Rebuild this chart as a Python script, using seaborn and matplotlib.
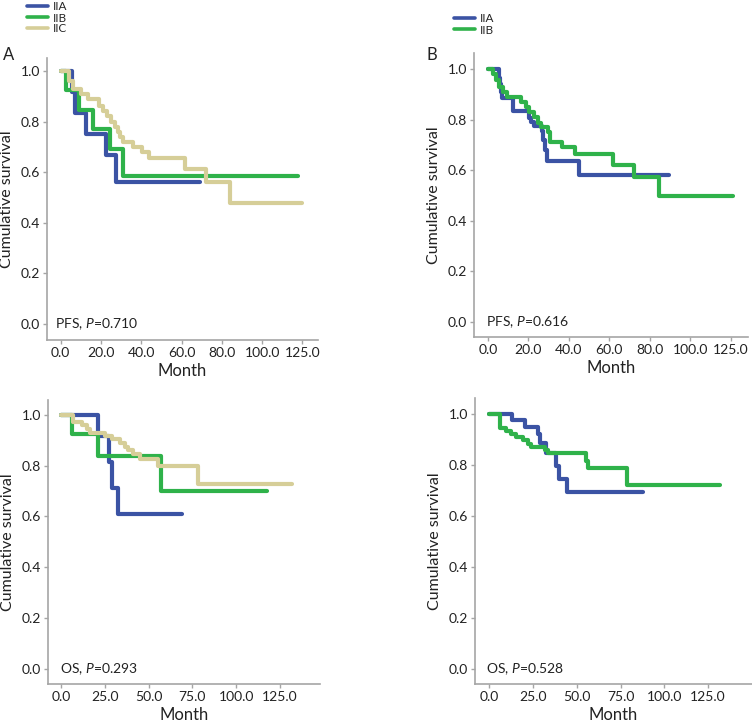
import numpy as np
import pandas as pd
import matplotlib
matplotlib.use('Agg')
import matplotlib.pyplot as plt
import seaborn as sns

# Stage groups and colours
STAGES = ['IIA', 'IIB', 'IIC']
COLORS = {'IIA': '#3b53a4', 'IIB': '#2fb24a', 'IIC': '#d6ce98'}

# Panel A: PFS by stage (month of step, survival after step)
pfs3_iia_t = [0, 5.5, 7, 12.5, 22.5, 27.5, 69]
pfs3_iia_s = [1.0, 0.917, 0.833, 0.75, 0.667, 0.5625, 0.5625]
pfs3_iib_t = [0, 2.5, 9.1, 16.2, 24.5, 31, 118]
pfs3_iib_s = [1.0, 0.923, 0.846, 0.769, 0.692, 0.586, 0.586]
pfs3_iic_t = [0, 4, 6, 10, 13.5, 19, 21, 23, 25, 27, 28.5, 29.5, 31, 36, 40.5, 44, 61.5, 72, 84, 120]
pfs3_iic_s = [1.0, 0.96, 0.93, 0.91, 0.89, 0.86, 0.84, 0.82, 0.80, 0.78, 0.76, 0.74, 0.72,
              0.70, 0.68, 0.655, 0.612, 0.56, 0.478, 0.478]

# Panel B: PFS, two groups
pfs2_iia_t = [0, 5.3, 6.1, 6.6, 7, 12.6, 20.3, 21.5, 23, 26.7, 27.5, 28.4, 29.2, 45, 89.5]
pfs2_iia_s = [1.0, 0.963, 0.94, 0.91, 0.885, 0.833, 0.806, 0.79, 0.774, 0.754, 0.72, 0.68,
              0.635, 0.58, 0.58]
pfs2_iib_t = [0, 2.8, 4, 5.3, 7.7, 9.5, 16.5, 19, 20.5, 23, 25, 26.5, 29.5, 30.5, 36.5, 43,
              62, 72, 84.5, 121]
pfs2_iib_s = [1.0, 0.98, 0.956, 0.93, 0.91, 0.89, 0.87, 0.85, 0.83, 0.81, 0.785, 0.77, 0.75,
              0.71, 0.69, 0.665, 0.62, 0.575, 0.50, 0.50]

# Panel C: OS by stage
os3_iia_t = [0, 21.3, 27.4, 29, 32.7, 69]
os3_iia_s = [1.0, 0.917, 0.815, 0.713, 0.611, 0.611]
os3_iib_t = [0, 6.1, 21.3, 56.9, 117.4]
os3_iib_s = [1.0, 0.923, 0.837, 0.70, 0.70]
os3_iic_t = [0, 7, 11.8, 14.6, 16.6, 25, 29, 33.7, 36.5, 38.4, 41.3, 45, 55.6, 78, 132]
os3_iic_s = [1.0, 0.972, 0.958, 0.944, 0.93, 0.915, 0.903, 0.89, 0.875, 0.861, 0.845, 0.826,
             0.80, 0.727, 0.727]

# Panel D: OS, two groups
os2_iia_t = [0, 13.3, 20.4, 28, 29.3, 32.7, 38, 40, 44.7, 88]
os2_iia_s = [1.0, 0.973, 0.947, 0.92, 0.885, 0.845, 0.795, 0.745, 0.695, 0.695]
os2_iib_t = [0, 6.1, 9.9, 12.7, 15.6, 19.4, 22.3, 24.2, 31.8, 33.7, 55.4, 56.6, 78.5, 131.7]
os2_iib_s = [1.0, 0.943, 0.93, 0.92, 0.91, 0.895, 0.882, 0.868, 0.858, 0.847, 0.815, 0.786,
             0.721, 0.721]

# Tick labels
pfs_xticks = [0, 20, 40, 60, 80, 100, 120]
pfs_xlabels = ['0.0', '20.0', '40.0', '60.0', '80.0', '100.0', '125.0']
os_xticks = [0, 25, 50, 75, 100, 125]
os_xlabels = ['0.0', '25.0', '50.0', '75.0', '100.0', '125.0']
yticks = [0.0, 0.2, 0.4, 0.6, 0.8, 1.0]


def make_df(groups):
    frames = []
    for stage, t, s in groups:
        frames.append(pd.DataFrame({'Month': t, 'Survival': s, 'Stage': stage}))
    return pd.concat(frames, ignore_index=True)


sns.set_theme(style='white')
plt.rcParams['font.family'] = ['Lato', 'DejaVu Sans']
plt.rcParams['mathtext.fontset'] = 'custom'
plt.rcParams['mathtext.rm'] = 'Lato'
plt.rcParams['mathtext.it'] = 'Lato:italic'

fig = plt.figure(figsize=(7.52, 7.25), dpi=100)

W, H = 752.0, 725.0
# left, top, right, bottom in pixels
boxes = {
    'A': (47, 58, 318, 340),
    'B': (474, 53, 748, 337),
    'C': (48, 400, 320, 684),
    'D': (475, 398, 752, 684),
}

panels = [
    ('A', make_df([('IIA', pfs3_iia_t, pfs3_iia_s), ('IIB', pfs3_iib_t, pfs3_iib_s),
                   ('IIC', pfs3_iic_t, pfs3_iic_s)]),
     (-6.8, 127.7), (-0.063, 1.051), pfs_xticks, pfs_xlabels, 'PFS, $P$=0.710', -2.8),
    ('B', make_df([('IIA', pfs2_iia_t, pfs2_iia_s), ('IIB', pfs2_iib_t, pfs2_iib_s)]),
     (-6.8, 128.5), (-0.059, 1.063), pfs_xticks, pfs_xlabels, 'PFS, $P$=0.616', -0.8),
    ('C', make_df([('IIA', os3_iia_t, os3_iia_s), ('IIB', os3_iib_t, os3_iib_s),
                   ('IIC', os3_iic_t, os3_iic_s)]),
     (-7.4, 147.8), (-0.059, 1.058), os_xticks, os_xlabels, 'OS, $P$=0.293', -0.5),
    ('D', make_df([('IIA', os2_iia_t, os2_iia_s), ('IIB', os2_iib_t, os2_iib_s)]),
     (-8.0, 150.0), (-0.058, 1.061), os_xticks, os_xlabels, 'OS, $P$=0.528', -1.7),
]

for name, df, xlim, ylim, xt, xl, note, note_x in panels:
    l, t, r, b = boxes[name]
    ax = fig.add_axes([l / W, 1 - b / H, (r - l) / W, (b - t) / H])
    order = [s for s in STAGES if s in df['Stage'].unique()]
    sns.lineplot(data=df, x='Month', y='Survival', hue='Stage', hue_order=order,
                 palette=COLORS, estimator=None, sort=False, drawstyle='steps-post',
                 linewidth=3.0, ax=ax, legend=name in ('A', 'B'))
    ax.set_xlim(*xlim)
    ax.set_ylim(*ylim)
    ax.set_xticks(xt)
    ax.set_xticklabels(xl)
    ax.set_yticks(yticks)
    ax.set_yticklabels([f'{v:.1f}' for v in yticks])
    for side in ('top', 'right'):
        ax.spines[side].set_visible(False)
    for side in ('left', 'bottom'):
        ax.spines[side].set_color('#a5a5a5')
        ax.spines[side].set_linewidth(1.2)
    ax.tick_params(axis='both', which='major', bottom=True, left=True, length=3,
                   width=1, color='#a5a5a5', pad=2, labelsize=10, labelcolor='#222222')
    ax.set_xlabel('Month', fontsize=12, color='#222222', labelpad=3)
    ax.set_ylabel('Cumulative survival', fontsize=11.5, color='#222222', labelpad=5)
    ax.text(note_x, 0.0, note, fontsize=10, color='#222222', va='center', ha='left')

    if name in ('A', 'B'):
        if name == 'A':
            anchor = (27 / W, 1 - 1.5 / H)
        else:
            anchor = (454 / W, 1 - 13.5 / H)
        sns.move_legend(ax, loc='upper left', bbox_to_anchor=anchor,
                        bbox_transform=fig.transFigure, frameon=False, title=None,
                        fontsize=8.5, labelspacing=0.0, handlelength=1.8,
                        handletextpad=0.4, borderpad=0, borderaxespad=0)
        for line in ax.get_legend().get_lines():
            line.set_linewidth(2.6)

fig.text(3 / W, 1 - 55 / H, 'A', fontsize=12, color='#222222', va='center', ha='left')
fig.text(427 / W, 1 - 55 / H, 'B', fontsize=12, color='#222222', va='center', ha='left')

fig.savefig('out.png', dpi=100)
